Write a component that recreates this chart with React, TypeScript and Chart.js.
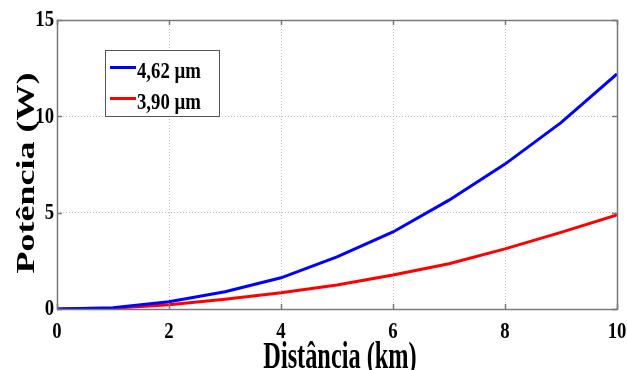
import React, { useEffect, useRef } from "react";
import { Chart, registerables } from "chart.js";

Chart.register(...registerables);

const distanceKm = [0, 1, 2, 3, 4, 5, 6, 7, 8, 9, 10];
const power462 = [0, 0.07, 0.38, 0.9, 1.62, 2.7, 4.0, 5.65, 7.52, 9.67, 12.2];
const power390 = [0, 0.04, 0.22, 0.5, 0.84, 1.25, 1.76, 2.35, 3.12, 3.98, 4.88];
const xTicks = [0, 2, 4, 6, 8, 10];
const yTicks = [0, 5, 10, 15];
const seriesLabels = ["4,62 µm", "3,90 µm"];
const seriesColors = ["#0000ff", "#ff0000"];
const xTitle = "Distância (km)";
const yTitle = "Potência (W)";

const SERIF = '"Liberation Serif", "Times New Roman", serif';

function drawText(
  ctx: CanvasRenderingContext2D,
  text: string,
  x: number,
  y: number,
  size: number,
  align: CanvasTextAlign,
  baseline: CanvasTextBaseline,
  sx: number,
  rotate = 0
) {
  ctx.save();
  ctx.translate(x, y);
  ctx.scale(sx, 1);
  if (rotate) ctx.rotate(rotate);
  ctx.font = `bold ${size}px ${SERIF}`;
  ctx.fillStyle = "#000";
  ctx.textAlign = align;
  ctx.textBaseline = baseline;
  ctx.fillText(text, 0, 0);
  ctx.restore();
}

const decorPlugin = {
  id: "decor",
  afterDraw(chart: any) {
    const ctx: CanvasRenderingContext2D = chart.ctx;
    const { left, right, top, bottom } = chart.chartArea;
    const xs = chart.scales.x;
    const ys = chart.scales.y;
    ctx.save();
    // frame
    ctx.strokeStyle = "#7a7a7a";
    ctx.lineWidth = 1.5;
    ctx.strokeRect(Math.round(left) + 0.5, Math.round(top) + 0.5, Math.round(right - left), Math.round(bottom - top));
    // inward ticks
    ctx.lineWidth = 1.5;
    const tl = 5;
    xTicks.forEach((v) => {
      const px = Math.round(xs.getPixelForValue(v)) + 0.5;
      ctx.beginPath();
      ctx.moveTo(px, bottom);
      ctx.lineTo(px, bottom - tl);
      ctx.moveTo(px, top);
      ctx.lineTo(px, top + tl);
      ctx.stroke();
    });
    yTicks.forEach((v) => {
      const py = Math.round(ys.getPixelForValue(v)) + 0.5;
      ctx.beginPath();
      ctx.moveTo(left, py);
      ctx.lineTo(left + tl, py);
      ctx.moveTo(right, py);
      ctx.lineTo(right - tl, py);
      ctx.stroke();
    });
    ctx.restore();

    // tick labels
    xTicks.forEach((v) => {
      drawText(ctx, String(v), xs.getPixelForValue(v), 338, 24, "center", "alphabetic", 0.78);
    });
    yTicks.forEach((v) => {
      drawText(ctx, String(v), 54, ys.getPixelForValue(v), 24, "right", "middle", 0.78);
    });

    // axis titles
    drawText(ctx, xTitle, (left + right) / 2 + 3, 368, 38, "center", "alphabetic", 0.64);
    drawText(ctx, yTitle, 34, 173, 36, "center", "alphabetic", 0.7, -Math.PI / 2);

    // legend
    ctx.save();
    ctx.fillStyle = "#fff";
    ctx.fillRect(105.5, 50.5, 114, 66);
    ctx.strokeStyle = "#555";
    ctx.lineWidth = 1;
    ctx.strokeRect(105.5, 50.5, 114, 66);
    const rowsY = [67.5, 98.5];
    seriesLabels.forEach((lab, i) => {
      ctx.strokeStyle = seriesColors[i];
      ctx.lineWidth = 3;
      ctx.beginPath();
      ctx.moveTo(110, rowsY[i]);
      ctx.lineTo(136, rowsY[i]);
      ctx.stroke();
      drawText(ctx, lab, 137, rowsY[i] + 10.5, 24, "left", "alphabetic", 0.78);
    });
    ctx.restore();
  },
};

export default function App() {
  const ref = useRef<HTMLCanvasElement | null>(null);
  useEffect(() => {
    document.body.style.margin = "0";
    if (!ref.current) return;
    const chart = new Chart(ref.current, {
      type: "line",
      data: {
        labels: distanceKm,
        datasets: [
          {
            label: seriesLabels[0],
            data: distanceKm.map((x, i) => ({ x, y: power462[i] })),
            borderColor: seriesColors[0],
            borderWidth: 3,
            pointRadius: 0,
            tension: 0,
            fill: false,
          },
          {
            label: seriesLabels[1],
            data: distanceKm.map((x, i) => ({ x, y: power390[i] })),
            borderColor: seriesColors[1],
            borderWidth: 3,
            pointRadius: 0,
            tension: 0,
            fill: false,
          },
        ],
      },
      options: {
        animation: false,
        responsive: false,
        maintainAspectRatio: false,
        layout: { padding: { left: 0, right: 10, top: 20, bottom: 0 } },
        plugins: { legend: { display: false }, tooltip: { enabled: false } },
        scales: {
          x: {
            type: "linear",
            min: 0,
            max: 10,
            ticks: { display: false, stepSize: 2 },
            grid: { color: "#bdbdbd", lineWidth: 1, drawTicks: false },
            border: { display: false, dash: [1, 2] },
            afterFit: (s: any) => {
              s.height = 61;
            },
          },
          y: {
            type: "linear",
            min: 0,
            max: 15,
            ticks: { display: false, stepSize: 5 },
            grid: { color: "#bdbdbd", lineWidth: 1, drawTicks: false },
            border: { display: false, dash: [1, 2] },
            afterFit: (s: any) => {
              s.width = 57;
            },
          },
        },
      },
      plugins: [decorPlugin],
    } as any);
    return () => chart.destroy();
  }, []);
  return (
    <div style={{ width: 627, height: 370, background: "#fff" }}>
      <canvas ref={ref} width={627} height={370} style={{ display: "block" }} />
    </div>
  );
}
